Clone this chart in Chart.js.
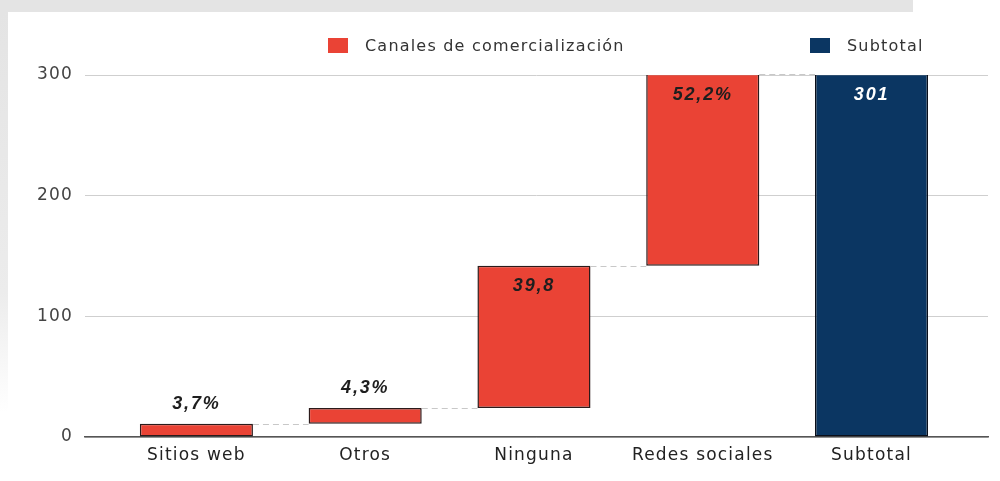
<!DOCTYPE html>
<html>
<head>
<meta charset="utf-8">
<script src="https://cdn.jsdelivr.net/npm/chart.js@4.4.1/dist/chart.umd.min.js"></script>
<style>
  html, body { margin: 0; padding: 0; background: #fff; }
  #wrap { position: relative; width: 1000px; height: 481px; overflow: hidden; }
  #topband { position: absolute; left: 0; top: 0; width: 913px; height: 12px; background: #e4e4e4; }
  #leftband { position: absolute; left: 0; top: 12px; width: 8px; height: 400px;
    background: linear-gradient(to bottom, #e4e4e4 0%, #ececec 70%, #ffffff 100%); }
  canvas { position: absolute; left: 0; top: 0; }
  .legend { position: absolute; top: 38px; font-family: "DejaVu Sans", sans-serif; font-size: 16px;
    letter-spacing: 1.2px; color: #333; display: flex; align-items: center; line-height: 15px; }
  .legend .box { width: 20px; height: 15px; margin-right: 17px; }
</style>
</head>
<body>
<div id="wrap">
  <canvas id="c" width="1000" height="481"></canvas>
  <div id="topband"></div>
  <div id="leftband"></div>
  <div class="legend" style="left:328px"><span class="box" style="background:#ea4335"></span><span>Canales de comercialización</span></div>
  <div class="legend" style="left:810px"><span class="box" style="background:#0b3662"></span><span>Subtotal</span></div>
</div>
<script>
const categories = ['Sitios web', 'Otros', 'Ninguna', 'Redes sociales', 'Subtotal'];
const changes = [11, 13, 118, 159];
const subtotal = 301;
const valueLabels = ['3,7%', '4,3%', '39,8', '52,2%', '301'];
const yTicks = [0, 100, 200, 300];
const seriesNames = ['Canales de comercialización', 'Subtotal'];
const colors = ['#ea4335', '#0b3662'];

// waterfall floating ranges built from the change values
const redData = [];
let run = 0;
changes.forEach((v, i) => { redData.push({ x: i, y: [run, run + v] }); run += v; });
const navyData = [{ x: categories.length - 1, y: [0, subtotal] }];

const FONT = '"DejaVu Sans", sans-serif';
const SPACING = '1.2px';

const spacingPlugin = {
  id: 'spacing',
  beforeUpdate(chart) { chart.ctx.letterSpacing = SPACING; },
  beforeDraw(chart) { chart.ctx.letterSpacing = SPACING; }
};

const waterfallPlugin = {
  id: 'waterfall',
  afterDatasetsDraw(chart) {
    const ctx = chart.ctx;
    const y = chart.scales.y;
    const red = chart.getDatasetMeta(0).data;
    const navy = chart.getDatasetMeta(1).data;
    const bars = red.concat(navy);
    // connectors
    ctx.save();
    ctx.strokeStyle = '#c8c8c8';
    ctx.lineWidth = 1;
    ctx.setLineDash([6, 4]);
    for (let i = 0; i < bars.length - 1; i++) {
      const a = bars[i], b = bars[i + 1];
      const val = i < redData.length ? redData[i].y[1] : subtotal;
      const py = Math.round(y.getPixelForValue(val)) + 0.5;
      ctx.beginPath();
      ctx.moveTo(a.x + a.width / 2, py);
      ctx.lineTo(b.x - b.width / 2, py);
      ctx.stroke();
    }
    ctx.restore();
    // value labels
    ctx.save();
    ctx.letterSpacing = '1.8px';
    ctx.font = 'italic bold 18px "Liberation Sans", Arial, sans-serif';
    ctx.textAlign = 'center';
    ctx.textBaseline = 'middle';
    bars.forEach((bar, i) => {
      const top = Math.min(bar.y, bar.base);
      const h = Math.abs(bar.base - bar.y);
      const visTop = Math.max(top, chart.chartArea.top);
      let ly, color;
      if (h > 60) {
        ly = visTop + 20;
        color = i === bars.length - 1 ? '#ffffff' : '#1e1e1e';
      } else {
        ly = top - 20;
        color = '#1e1e1e';
      }
      ctx.fillStyle = color;
      ctx.fillText(valueLabels[i], bar.x, ly);
    });
    ctx.restore();
  }
};

new Chart(document.getElementById('c'), {
  type: 'bar',
  data: {
    datasets: [
      { label: seriesNames[0], data: redData, backgroundColor: colors[0], borderColor: '#2b1b1b', borderWidth: 1.5, borderSkipped: false },
      { label: seriesNames[1], data: navyData, backgroundColor: colors[1], borderColor: '#0a0f1a', borderWidth: 1.5, borderSkipped: false }
    ]
  },
  options: {
    responsive: false,
    animation: false,
    devicePixelRatio: 1,
    grouped: false,
    categoryPercentage: 1,
    barPercentage: 0.67,
    layout: { padding: { top: 75, right: 12, left: 0, bottom: 0 } },
    plugins: { legend: { display: false }, tooltip: { enabled: false } },
    scales: {
      x: {
        type: 'linear',
        offset: false,
        min: -0.66,
        max: 4.69,
        afterBuildTicks(scale) { scale.ticks = categories.map((c, i) => ({ value: i })); },
        afterFit(scale) { scale.height = 44; },
        ticks: {
          autoSkip: false, maxRotation: 0, padding: 8,
          color: '#222', font: { family: FONT, size: 17 },
          callback: (v) => categories[v]
        },
        grid: { display: false, drawTicks: false, offset: false },
        border: { display: true, color: '#555', width: 1.5 }
      },
      y: {
        min: 0, max: 300,
        afterBuildTicks(scale) { scale.ticks = yTicks.map(v => ({ value: v })); },
        afterFit(scale) { scale.width = 85; },
        ticks: { padding: 12, color: '#444', font: { family: FONT, size: 17 } },
        grid: { color: '#cfcfcf', drawTicks: false },
        border: { display: false }
      }
    }
  },
  plugins: [spacingPlugin, waterfallPlugin]
});
</script>
</body>
</html>
